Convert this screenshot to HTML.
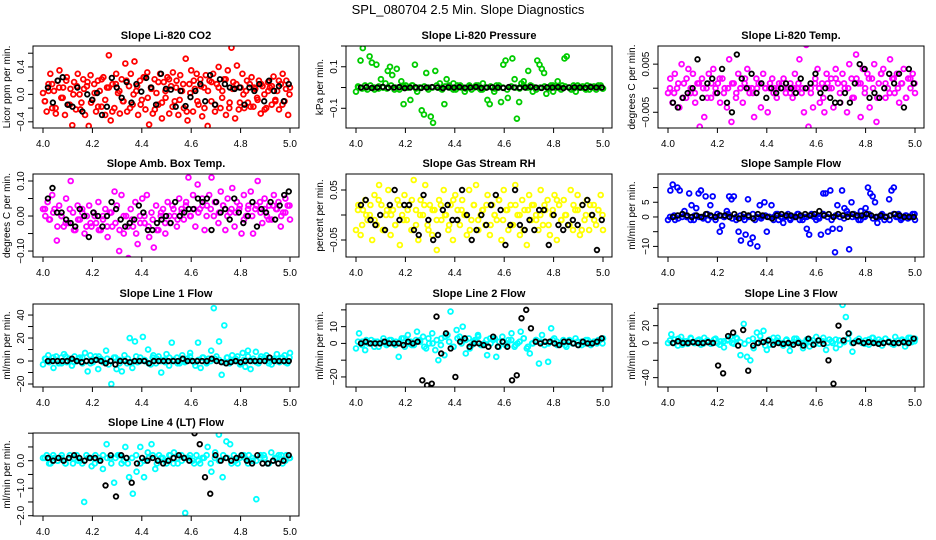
<!DOCTYPE html>
<html><head><meta charset="utf-8">
<style>
html,body{margin:0;padding:0;background:#fff;}
svg{display:block;font-family:"Liberation Sans",Arial,sans-serif;}
</style></head>
<body>
<svg id="chart" width="936" height="540" viewBox="0 0 936 540">
<defs id="defs"></defs>
<text x="468" y="14" text-anchor="middle" font-size="13">SPL_080704  2.5 Min. Slope Diagnostics</text>
</svg>
<script>
// ---- data (x spans 4.0 .. 5.0 evenly by sample index) ----
const xStart = 4.0, xEnd = 5.0;
const xTicks = [4.0, 4.2, 4.4, 4.6, 4.8, 5.0];
const xTickLabels = ["4.0","4.2","4.4","4.6","4.8","5.0"];

const co2Color = [0.02,-0.1,-0.25,0.15,0.3,-0.2,0.05,-0.28,0.2,0.35,-0.05,0.1,-0.3,0.25,-0.15,0.08,-0.45,0.18,-0.22,0.3,0.0,-0.12,0.22,-0.3,0.12,-0.46,0.28,-0.08,0.15,-0.25,0.2,0.05,-0.18,0.25,-0.3,0.1,0.57,-0.38,0.15,-0.2,0.3,0.02,-0.28,0.22,-0.1,0.45,-0.25,0.12,0.3,-0.15,0.48,0.05,-0.3,0.2,-0.08,0.25,-0.22,0.32,-0.44,0.1,-0.28,0.22,0.02,-0.15,0.3,-0.35,0.18,-0.05,0.25,-0.28,0.12,0.32,-0.1,0.2,-0.3,0.28,0.05,-0.2,0.52,-0.38,0.15,0.35,-0.25,0.08,0.3,-0.15,0.22,-0.32,0.1,0.28,-0.46,0.2,-0.1,0.3,-0.25,0.15,0.4,-0.2,0.05,0.22,-0.3,0.35,-0.12,0.68,0.18,-0.35,0.42,-0.22,0.1,0.3,-0.2,0.05,-0.12,0.15,0.25,-0.18,0.08,-0.05,0.2,-0.28,0.12,0.0,-0.2,0.18,0.1,-0.15,0.26,-0.08,0.05,-0.22,0.15,0.3,-0.1,0.2,-0.3,0.1];
const co2Band = [-0.1,0.05,0.15,-0.2,0.1,-0.05,0.2,-0.15,0.0,0.12,-0.22,0.08,0.18,-0.12,0.02,-0.18,0.22,-0.08,0.1,-0.25,0.15,0.05,-0.1,0.2,-0.2,0.0,0.12,-0.15,0.25,-0.05,0.08,-0.22,0.18,-0.12,0.05,0.22,-0.18,0.1,-0.08,0.15,-0.25,0.02,0.2,-0.1,0.12,-0.2,0.05,0.18,-0.15,0.1,-0.05,0.22,-0.2,0.08,0.15,-0.12,0.0,0.2,-0.18,0.1,-0.08,0.15,-0.22,0.05,0.12,-0.1,0.2,-0.15,0.08,0.0];
const co2Black = [0.1,-0.12,0.2,0.25,-0.15,-0.18,0.1,-0.25,0.0,-0.08,0.02,-0.3,-0.18,0.24,0.1,-0.05,0.18,-0.12,0.15,0.04,0.24,0.1,-0.15,0.3,0.08,0.07,-0.18,0.05,-0.17,-0.04,0.05,0.15,-0.1,0.28,-0.15,0.22,0.15,0.1,0.08,0.1,-0.15,0.1,0.05,0.15,-0.1,0.2,0.05,0.12,-0.1,0.15];

const presColor = [-0.02,0.0,0.13,0.19,0.01,-0.01,0.15,0.12,0.0,0.11,-0.005,0.04,0.0,0.02,0.08,0.1,0.06,-0.01,0.09,0.0,0.03,-0.08,0.01,0.0,-0.06,0.01,0.11,-0.02,0.0,-0.11,-0.13,0.07,0.0,-0.14,-0.17,0.08,0.0,0.02,-0.01,-0.08,0.04,0.01,0.0,0.02,-0.01,0.0,0.01,0.0,-0.02,0.0,0.01,-0.01,0.0,0.01,0.0,-0.01,0.02,0.0,-0.06,-0.08,0.0,-0.02,0.01,0.0,-0.07,0.11,0.13,-0.05,-0.23,0.14,0.04,-0.15,-0.07,0.02,0.03,0.0,0.08,0.01,-0.02,0.0,0.13,0.11,0.09,0.07,-0.03,0.0,0.01,-0.02,0.0,0.03,0.0,0.01,0.14,0.15,0.0,-0.01,0.01,-0.02,0.0,0.0,0.005,-0.005,0.01,-0.01,0.0,0.005,-0.01,0.0,0.01,-0.005];
const presBand = [0.005,-0.005,0.0,0.01,-0.01,0.005,0.0,-0.005,0.01,0.0,-0.01,0.005,0.0,0.01,-0.005,0.0,0.005,-0.01,0.0,0.01,-0.005,0.005,0.0,-0.01,0.01,0.0,-0.005,0.005,0.0,0.01,-0.01,0.0,0.005,-0.005,0.01,0.0,-0.01,0.005,0.0,-0.005,0.01,0.0,0.005,-0.01,0.0,0.005,-0.005,0.01,0.0,-0.01,0.005,0.0,-0.005,0.01,0.0,-0.01,0.005,0.0,0.01,-0.005];
const presBlack = [0.0,0.002,-0.002,0.0,0.003,-0.001,0.0,0.002,-0.003,0.0,0.001,-0.002,0.0,0.002,0.0,-0.003,0.001,0.0,0.002,-0.001,0.0,0.003,-0.002,0.0,0.001,0.0,-0.002,0.002,0.0,-0.001,0.0,0.003,0.0,-0.002,0.001,0.0,0.002,-0.003,0.0,0.001,0.0,-0.001,0.002,0.0,0.0];

const tempColor = [-0.001,0.002,-0.003,0.003,0.0,-0.004,0.005,0.001,-0.002,0.004,-0.001,0.003,-0.003,0.001,-0.008,0.002,-0.006,0.0,0.003,-0.002,0.004,-0.001,0.001,-0.003,0.002,0.0,-0.004,0.006,-0.007,0.001,-0.002,0.003,0.0,-0.003,0.002,0.004,-0.001,0.0,-0.006,0.002,0.001,-0.004,0.003,0.0,-0.005,0.001,0.002,0.0,-0.002,0.001,0.0,0.002,-0.001,0.0,0.001,-0.002,0.003,0.0,0.006,-0.001,-0.005,0.009,-0.008,0.0,-0.004,0.002,0.004,-0.003,0.001,-0.005,0.003,0.0,0.002,-0.004,0.004,0.001,-0.003,0.003,0.0,-0.005,0.005,0.002,-0.002,0.007,0.001,-0.006,0.004,0.0,0.003,-0.004,0.002,0.005,-0.007,0.001,0.003,0.004,-0.002,0.0,0.006,0.002,-0.001,0.003,-0.003,0.001,0.004,-0.002,0.002,0.0,0.003,-0.001];
const tempBand = [0.0,-0.001,0.001,-0.002,0.002,0.0,-0.001,0.001,0.0,-0.002,0.001,0.0,0.002,-0.001,0.0,0.001,-0.001,0.0,0.001,0.0,-0.001,0.0,0.001,0.0,0.0,-0.001,0.0,0.001,0.0,-0.001,0.0,0.001,0.0,0.0,-0.001,0.001,0.0,-0.002,0.001,0.0,0.002,-0.001,0.001,0.0,-0.002,0.002,0.001,-0.001,0.002,0.0,-0.002,0.003,0.001,-0.001,0.002,0.0,0.001,-0.002,0.002,0.001];
const tempBlack = [-0.003,-0.004,-0.002,-0.001,0.0,0.006,-0.002,0.001,0.002,-0.001,0.004,-0.003,-0.005,0.007,0.002,0.0,0.003,-0.001,0.001,-0.002,0.0,-0.001,0.0,0.001,0.0,-0.001,0.002,0.0,0.001,0.003,-0.001,0.0,-0.002,-0.003,-0.003,-0.001,-0.003,0.001,0.005,0.004,-0.002,-0.001,-0.002,0.0,0.003,0.001,0.003,-0.004,0.004,0.001];

const ambColor = [0.02,0.0,0.04,-0.01,0.06,0.02,-0.07,0.03,0.0,-0.03,0.05,-0.02,0.1,0.01,-0.04,0.03,-0.01,0.02,-0.05,0.0,0.03,-0.03,0.01,-0.02,0.04,-0.04,0.0,0.02,-0.06,0.01,-0.03,0.07,0.03,-0.1,0.06,-0.05,0.0,-0.12,0.02,-0.03,0.04,-0.08,0.0,0.05,-0.02,0.06,-0.06,0.01,-0.09,0.03,-0.04,0.0,0.02,-0.05,0.04,-0.02,0.03,0.0,-0.03,0.05,0.02,-0.01,0.04,0.11,0.0,0.06,-0.03,0.09,0.02,0.05,-0.04,0.03,0.06,0.11,0.0,0.04,-0.02,0.07,0.03,-0.04,0.05,0.01,0.08,-0.03,0.04,0.02,-0.05,0.06,0.0,0.03,0.07,-0.05,0.02,0.1,0.04,-0.02,0.05,0.0,0.03,-0.01,0.06,0.02,0.04,-0.03,0.01,0.05,0.03,-0.01];
const ambBand = [0.02,-0.01,0.01,-0.03,0.0,-0.02,0.02,-0.04,-0.01,0.01,-0.03,-0.02,0.0,-0.04,-0.01,-0.03,0.01,-0.02,-0.04,0.0,-0.03,-0.01,-0.05,-0.02,0.0,-0.03,-0.01,-0.04,0.01,-0.02,0.0,0.02,-0.01,0.01,0.03,0.0,0.02,0.01,0.03,0.0,0.02,0.04,0.01,0.03,0.0,0.02,0.01,0.03,-0.01,0.02,0.0,0.03,0.01,0.02,-0.01,0.03,0.02,0.0,0.01,0.03];
const ambBlack = [0.05,0.08,0.01,0.01,-0.01,-0.02,-0.03,0.02,0.0,-0.06,0.01,0.0,-0.03,0.0,0.04,0.02,-0.01,-0.03,-0.02,-0.01,0.03,0.01,-0.04,-0.04,-0.02,-0.01,0.0,-0.02,0.04,0.0,0.01,0.02,0.02,0.05,0.04,0.05,-0.04,0.04,0.01,0.02,-0.01,0.05,0.01,-0.02,0.0,0.04,-0.03,0.02,0.01,0.04,-0.01,0.03,0.06,0.07];

const rhColor = [-0.03,0.02,-0.04,0.01,0.03,-0.01,0.0,-0.05,0.04,-0.02,0.06,0.02,-0.03,0.0,0.05,-0.04,0.01,-0.02,0.03,-0.06,0.0,0.04,-0.01,0.02,-0.03,0.07,0.01,-0.05,0.03,0.0,0.06,-0.02,0.02,-0.04,0.01,-0.07,0.03,-0.01,0.05,0.0,-0.03,0.02,-0.05,0.04,0.01,-0.02,0.03,0.0,-0.04,0.05,-0.01,0.02,0.06,-0.03,0.0,0.01,-0.02,0.04,-0.04,0.02,0.0,-0.01,0.03,-0.05,0.05,0.01,-0.03,0.02,-0.02,0.06,0.0,-0.04,0.03,0.01,-0.06,0.04,-0.01,0.02,0.0,-0.03,0.05,-0.02,0.01,0.03,-0.04,0.0,0.04,-0.05,0.02,-0.01,0.03,0.0,-0.02,0.05,-0.03,0.01,0.04,-0.04,0.02,-0.01,0.03,-0.03,0.0,0.02,-0.02,0.01,0.04,-0.03];
const rhBand = [0.01,-0.02,0.0,0.02,-0.01,0.03,-0.03,0.01,0.0,-0.02,0.02,-0.01,0.01,0.03,-0.02,0.0,0.02,-0.03,0.01,-0.01,0.02,0.0,-0.02,0.03,-0.01,0.01,0.0,-0.03,0.02,-0.01,0.01,0.02,-0.02,0.0,0.03,-0.01,0.01,-0.02,0.02,0.0,-0.03,0.01,0.02,-0.01,0.0,0.02,-0.02,0.01,0.03,-0.01,0.0,-0.02,0.02,0.01,-0.03,0.0,0.02,-0.01,0.01,0.0];
const rhBlack = [0.02,0.03,-0.01,-0.02,0.0,-0.03,0.02,0.05,-0.01,0.02,0.02,-0.03,-0.04,0.04,-0.01,-0.05,-0.04,0.01,0.02,-0.01,-0.01,0.05,0.0,-0.05,-0.03,0.0,-0.02,0.02,0.04,0.01,-0.06,-0.02,0.05,-0.02,-0.03,-0.01,-0.03,0.01,0.01,-0.06,0.0,-0.02,-0.03,-0.02,-0.01,-0.02,0.02,0.03,0.0,-0.07,-0.01];

const flowColor = [-1,9,11,-1,10,9,0,2,0,8,4,-1,3,8,9,0,7,-1,4,7,0,1,-5,-3,0,2,7,6,7,-1,-5,-8,0,-6,6,-9,-7,-1,-10,4,0,5,-5,0,4,0,1,-1,0,-2,0,1,-1,0,0,1,-1,0,0,-4,-6,1,0,-1,0,-6,8,8,-5,9,-4,-12,4,-4,9,3,2,-11,5,1,0,-1,2,0,3,10,8,7,5,-2,0,1,-1,0,6,9,10,0,1,-1,0,0.5,-0.5,0,1,-1];
const flowBand = [0,0.5,-0.5,1,0,-1,0.5,0,-0.5,1,0,-1,0.5,0,1,-0.5,0,0.5,-1,0,1,0,-0.5,0.5,0,-1,1,0,0.5,-0.5,0,1,-1,0,0.5,0,-0.5,1,0,-1,0.5,0,-0.5,1,0,0.5,-1,0,1,-0.5,0,0.5,0,-1,1,0,-0.5,0.5,0,1];
const flowBlack = [0,0.5,1,0.5,0,0.5,0,1,0.5,0,0.5,0.5,0,1,-0.5,1,0.5,-0.5,1,0.5,0,-0.5,0.5,1,0.5,0.5,0,0.5,1,0.5,1,2,0.5,1,0,1,0.5,0,1,0.5,0.5,1,0.5,0,0.5,0,0.5,1,0.5,0,0,0];

const line1Color = [-3,2,5,0,-6,4,-2,3,6,-1,2,-4,4,0,3,-2,7,-9,5,-1,4,-7,2,0,9,-3,-20,3,-7,1,-9,5,-2,20,-6,17,-1,3,21,0,10,-3,5,-2,4,-10,1,6,-4,16,0,3,-2,5,-1,2,7,0,-4,16,-6,3,-1,2,9,46,4,17,-12,31,3,-2,5,0,4,-3,7,-5,9,-7,2,8,-2,4,1,5,0,-3,2,6,-1,3,5,-2,7];
const line1Band = [2,-1,3,0,-2,4,1,-1,2,3,0,-2,1,4,-1,2,0,3,-2,1,2,-1,4,0,1,-2,3,2,0,-1,3,1,-2,2,0,4,-1,1,3,-2,0,2,1,-1,3,0,2,-2,1,4,0,-1,2,3,-2,1,0,2,-1,3];
const line1Black = [0,0,0,0,0,2,0,-1,0,0,1,0,-2,0,-3,0,0,-1,0,0,0,-2,0,0,0,0,0,0,2,0,0,0,0,0,2,0,-1,-2,-1,0,-1,0,0,0,0,0,3,0,0,0,0];

const line2Color = [-3,6,1,-4,0,2,-2,1,0,3,-1,2,0,1,-8,3,-2,5,1,-1,7,2,4,-3,0,6,-4,-10,3,-7,5,19,-2,8,4,10,-6,3,-1,2,5,-1,0,-7,3,2,-8,1,4,-1,2,6,-2,0,7,3,-3,-6,0,2,-12,5,1,-11,9,3,-1,0,2,-2,1,0,3,-1,1,0,2,-1,1,0,2,3];
const line2Band = [1,-1,2,0,1,-2,1,0,2,-1,1,3,0,-1,2,1,-2,3,0,2,-1,4,1,-2,3,0,2,-3,1,4,-1,2,0,3,-2,1,0,2,-1,1,3,-2,0,2,1,-1,0,2,1,0,-1,2,0,1,-1,2,0,1,2,0];
const line2Black = [0,1,0,0,0,1,0,0,0,-1,1,0,1,-22,-25,-24,16,-6,6,-3,-20,1,3,-2,0,0,-1,-2,4,-2,1,-2,-22,-19,15,20,9,1,0,1,1,0,-1,1,1,0,-1,1,0,0,1,3];

const line3Color = [0,10,4,-3,7,2,-1,5,0,3,-2,6,1,-1,4,0,2,-5,3,7,-1,5,-14,22,-16,-20,-6,12,8,14,-8,-2,6,3,0,-3,4,-9,1,5,0,-6,2,-4,3,7,-1,2,-8,4,0,-6,3,44,30,11,-10,2,5,0,3,-2,6,1,4,-3,5,2,-1,7,0,3,-4,6,1,5];
const line3Band = [3,0,5,-2,2,6,0,4,-1,3,1,5,-2,2,4,0,6,1,-1,3,5,0,2,-3,4,1,6,0,3,-2,5,2,0,4,1,-1,3,6,0,2,4,-2,1,5,0,3,2,-1,4,6,0,2,5,1,-2,3,4,0,6,2];
const line3Black = [0,2,0,0,1,0,0,1,0,-26,-35,8,12,-3,15,-32,-3,0,1,3,-2,0,-1,0,-2,0,-3,5,-2,3,-1,-20,-47,20,3,11,0,2,0,1,0,-1,0,1,0,0,1,0,5];

const line4Color = [0.1,0.2,-0.1,0.1,0.0,0.2,-0.1,0.1,-0.1,0.2,0.0,-1.5,0.1,-0.2,0.2,0.1,-0.3,0.6,0.1,-0.8,0.2,-0.1,0.5,-0.6,-1.2,-0.4,0.5,-0.6,0.3,0.6,-0.3,0.2,0.1,-0.1,0.2,0.3,-0.1,0.2,-1.9,0.1,0.0,0.2,-0.1,0.1,0.5,-0.4,0.3,0.95,-0.6,0.7,0.6,0.2,-0.1,0.2,0.1,0.2,0.0,-1.4,0.1,0.2,-0.1,0.3,0.1,0.2,-0.1,0.2,0.1];
const line4Band = [0.1,-0.1,0.2,0.0,0.1,-0.1,0.2,0.1,0.0,-0.1,0.2,0.1,-0.1,0.0,0.2,0.1,-0.1,0.1,0.2,0.0,-0.1,0.1,0.2,-0.1,0.0,0.1,0.2,-0.1,0.1,0.0,0.2,-0.1,0.1,0.0,0.1,0.2,-0.1,0.0,0.1,0.2,-0.1,0.1,0.0,0.2,0.1,-0.1,0.0,0.1,0.2,-0.1,0.1,0.0,0.2,0.1,-0.1,0.0,0.1,0.2,0.0,0.1];
const line4Black = [0.1,0.0,0.1,0.0,0.1,0.2,0.1,0.0,0.1,0.1,0.0,-0.9,0.2,-1.3,0.2,0.1,-0.8,-0.1,0.1,0.0,0.1,0.0,-0.1,0.0,0.1,0.2,0.1,0.0,1.0,0.6,-0.6,-1.2,0.2,0.0,0.1,0.0,0.1,0.2,0.0,-0.1,0.2,-0.1,-0.1,0.0,-0.1,0.0,0.2];

// ---- panel layout / axes (geometry, not data) ----
const panels = [
 {key:"co2",title:"Slope Li-820 CO2",ylab:"Licor ppm per min.",col:"#ff0000",c:co2Color,b:co2Band,k:co2Black,left:33,top:46,h:82,ylim:[-0.49,0.705],ticks:[-0.4,-0.2,0,0.2,0.4,0.6],labels:{"-0.4":"\u22120.4","0":"0.0","0.4":"0.4"}},
 {key:"pressure",title:"Slope Li-820 Pressure",ylab:"kPa per min.",col:"#00cc00",c:presColor,b:presBand,k:presBlack,left:346,top:46,h:82,ylim:[-0.195,0.2],ticks:[-0.1,0,0.1,0.2],labels:{"-0.1":"\u22120.1","0.1":"0.1"}},
 {key:"temp",title:"Slope Li-820 Temp.",ylab:"degrees C per min.",col:"#ff00ff",c:tempColor,b:tempBand,k:tempBlack,left:658,top:46,h:82,ylim:[-0.00827,0.00877],ticks:[-0.005,0,0.005],labels:{"-0.005":"\u22120.005","0.005":"0.005"}},
 {key:"ambtemp",title:"Slope Amb. Box Temp.",ylab:"degrees C per min.",col:"#ff00ff",c:ambColor,b:ambBand,k:ambBlack,left:33,top:174,h:83,ylim:[-0.117,0.12],ticks:[-0.1,-0.05,0,0.05,0.1],labels:{"-0.1":"\u22120.10","0":"0.00","0.1":"0.10"}},
 {key:"rh",title:"Slope Gas Stream RH",ylab:"percent per min.",col:"#ffff00",c:rhColor,b:rhBand,k:rhBlack,left:346,top:174,h:83,ylim:[-0.084,0.082],ticks:[-0.05,0,0.05],labels:{"-0.05":"\u22120.05","0.05":"0.05"}},
 {key:"sampleflow",title:"Slope Sample Flow",ylab:"ml/min per min.",col:"#0000ff",c:flowColor,b:flowBand,k:flowBlack,left:658,top:174,h:83,ylim:[-13.6,14.6],ticks:[-10,-5,0,5,10],labels:{"-10":"\u221210","0":"0","5":"5"}},
 {key:"line1",title:"Slope Line 1 Flow",ylab:"ml/min per min.",col:"#00ffff",c:line1Color,b:line1Band,k:line1Black,left:33,top:304,h:83,ylim:[-22.6,49.6],ticks:[-20,-10,0,10,20,30,40],labels:{"-20":"\u221220","0":"0","20":"20","40":"40"}},
 {key:"line2",title:"Slope Line 2 Flow",ylab:"ml/min per min.",col:"#00ffff",c:line2Color,b:line2Band,k:line2Black,left:346,top:304,h:83,ylim:[-26,23.5],ticks:[-20,-10,0,10,20],labels:{"-20":"\u221220","0":"0","10":"10"}},
 {key:"line3",title:"Slope Line 3 Flow",ylab:"ml/min per min.",col:"#00ffff",c:line3Color,b:line3Band,k:line3Black,left:658,top:304,h:83,ylim:[-50.8,45],ticks:[-40,-20,0,20,40],labels:{"-40":"\u221240","0":"0","20":"20"}},
 {key:"line4",title:"Slope Line 4 (LT) Flow",ylab:"ml/min per min.",col:"#00ffff",c:line4Color,b:line4Band,k:line4Black,left:33,top:433,h:83,ylim:[-2.01,1.007],ticks:[-2,-1.5,-1,-0.5,0,0.5,1],labels:{"-2":"\u22122.0","-1":"\u22121.0","0":"0.0"}}
];
const W = 266;
const NS = "http://www.w3.org/2000/svg";
const svg = document.getElementById("chart");
const defs = document.getElementById("defs");
function mk(tag, attrs, parent){const e=document.createElementNS(NS,tag);for(const k in attrs)e.setAttribute(k,attrs[k]);(parent||svg).appendChild(e);return e;}

panels.forEach(p=>{
  const g = mk("g",{});
  
  
  const bottom = p.top + p.h;
  const xs = v => p.left + 10 + (v - xStart) / (xEnd - xStart) * 247;
  const ys = v => bottom - (v - p.ylim[0]) / (p.ylim[1] - p.ylim[0]) * p.h;
  const cp = mk("clipPath",{id:"clip-"+p.key},defs);
  mk("rect",{x:p.left,y:p.top,width:W,height:p.h},cp);
  const t = mk("text",{x:p.left+W/2,y:p.top-7,"text-anchor":"middle","font-size":"11","font-weight":"bold"},g);
  t.textContent = p.title;
  
  
  const pg = mk("g",{fill:"none","stroke-width":"1.8","clip-path":"url(#clip-"+p.key+")"},g);
  
  
  p.b.forEach((v,i)=>{
    const x = xStart + 0.008 + (xEnd - xStart - 0.01) * i / (p.b.length - 1);
    const c = mk("circle",{cx:xs(x),cy:ys(v),r:2.4,stroke:p.col},pg);
    
    
  });
  p.c.forEach((v,i)=>{
    const x = xStart + (xEnd - xStart) * i / (p.c.length - 1);
    const c = mk("circle",{cx:xs(x),cy:ys(v),r:2.4,stroke:p.col},pg);
    
    
  });
  p.k.forEach((v,i)=>{
    const x = xStart + 0.02 + (xEnd - xStart - 0.025) * i / (p.k.length - 1);
    const c = mk("circle",{cx:xs(x),cy:ys(v),r:2.3,stroke:"#000"},pg);
    
    
  });
  const box = mk("rect",{x:p.left,y:p.top,width:W,height:p.h,fill:"none",stroke:"#000","stroke-width":"1"},g);
  
  
  xTicks.forEach((v,i)=>{
    mk("line",{x1:xs(v),x2:xs(v),y1:bottom,y2:bottom+5,stroke:"#000"},g);
    const l = mk("text",{x:xs(v),y:bottom+19,"text-anchor":"middle","font-size":"10"},g);
    l.textContent = xTickLabels[i];
    
    
  });
  p.ticks.forEach(v=>{
    const y = ys(v);
    mk("line",{x1:p.left-5,x2:p.left,y1:y,y2:y,stroke:"#000"},g);
    const key = String(v);
    if(p.labels[key]!==undefined){
      const l = mk("text",{x:p.left-9,y:y,"text-anchor":"middle","font-size":"10",transform:`rotate(-90 ${p.left-9} ${y})`},g);
      l.textContent = p.labels[key];
      
      
    }
  });
  const yl = mk("text",{x:p.left-23,y:p.top+p.h/2,"text-anchor":"middle","font-size":"10",transform:`rotate(-90 ${p.left-23} ${p.top+p.h/2})`},g);
  yl.textContent = p.ylab;
  
  
});
</script>
</body></html>
